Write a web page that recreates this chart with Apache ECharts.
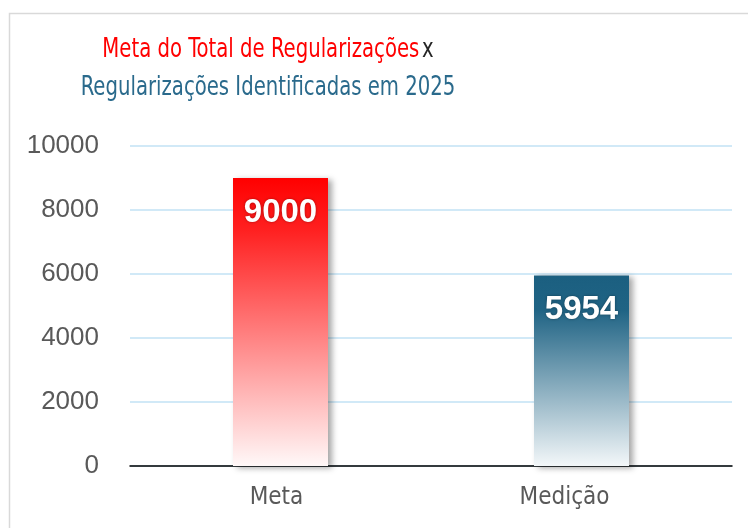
<!DOCTYPE html>
<html>
<head>
<meta charset="utf-8">
<script src="https://cdn.jsdelivr.net/npm/echarts@6/dist/echarts.min.js"></script>
<style>
  html, body { margin: 0; padding: 0; background: #ffffff; }
  #chart { width: 748px; height: 528px; }
</style>
</head>
<body>
<div id="chart"></div>
<script>
// Goal vs. measured regularizations for 2025
const categories = ['Meta', 'Medição'];
const values = [9000, 5954];
const yTicks = [0, 2000, 4000, 6000, 8000, 10000];

const barColors = [
  { top: '#ff0000', mid: '#ff2020', bottom: '#fff8f8' },
  { top: '#1b5f80', mid: '#1f6384', bottom: '#f3f7f9' }
];

const titleFont = 'DejaVu Sans Condensed, sans-serif';

const chart = echarts.init(document.getElementById('chart'), null, { renderer: 'canvas' });

const barData = values.map((v, i) => ({
  value: v,
  itemStyle: {
    color: {
      type: 'linear', x: 0, y: 0, x2: 0, y2: 1,
      colorStops: [
        { offset: 0, color: barColors[i].top },
        { offset: 0.18, color: barColors[i].mid },
        { offset: 1, color: barColors[i].bottom }
      ]
    }
  }
}));

chart.setOption({
  animation: false,
  backgroundColor: '#ffffff',
  graphic: [{
    type: 'rect',
    left: 7, top: 11,
    shape: { width: 800, height: 600 },
    style: { fill: 'none', stroke: '#d9d9d9', lineWidth: 1.5 },
    z: -1
  }, {
    // two-line heading, horizontally condensed
    type: 'text',
    x: 268,
    y: 31,
    scaleX: 0.81,
    style: {
      text: '{r|Meta do Total de Regularizações} {k|x}\n{b|Regularizações Identificadas em 2025}',
      align: 'center',
      verticalAlign: 'top',
      rich: {
        r: { fill: '#ff0000', fontSize: 27, fontFamily: titleFont, lineHeight: 38 },
        k: { fill: '#262626', fontSize: 27, fontFamily: titleFont, lineHeight: 38 },
        b: { fill: '#2a6a8c', fontSize: 27, fontFamily: titleFont, lineHeight: 38 }
      }
    }
  }],
  grid: { left: 130, right: 16, top: 146, bottom: 62 },
  xAxis: {
    type: 'category',
    data: categories,
    axisLine: { lineStyle: { color: '#000000', width: 1.5 } },
    axisTick: { show: false },
    axisLabel: {
      margin: 20,
      formatter: (v) => v === 'Meta' ? '{a|' + v + '}' : '{b|' + v + '}',
      rich: {
        a: { color: '#595959', fontSize: 24, fontFamily: 'DejaVu Sans Condensed, sans-serif', padding: [0, 8, 0, 0] },
        b: { color: '#595959', fontSize: 24, fontFamily: 'DejaVu Sans Condensed, sans-serif', padding: [0, 34, 0, 0] }
      }
    }
  },
  yAxis: {
    type: 'value',
    min: yTicks[0],
    max: yTicks[yTicks.length - 1],
    interval: yTicks[1] - yTicks[0],
    axisLine: { show: false },
    axisTick: { show: false },
    axisLabel: {
      margin: 31,
      color: '#595959',
      fontSize: 26,
      fontFamily: 'Liberation Sans, Arial, sans-serif',
      formatter: (v) => String(v)
    },
    splitLine: { lineStyle: { color: '#c2e2f4', width: 1.5 } }
  },
  series: [{
    type: 'bar',
    data: barData,
    barWidth: 95,
    itemStyle: {
      shadowColor: 'rgba(0,0,0,0.35)',
      shadowBlur: 6,
      shadowOffsetX: 4,
      shadowOffsetY: 2
    },
    label: {
      show: true,
      position: 'insideTop',
      distance: 18,
      color: '#ffffff',
      fontSize: 33,
      fontWeight: 'bold',
      fontFamily: 'Liberation Sans, Arial, sans-serif',
      textShadowColor: 'rgba(0,0,0,0.35)',
      textShadowBlur: 3
    }
  }]
});
</script>
</body>
</html>
